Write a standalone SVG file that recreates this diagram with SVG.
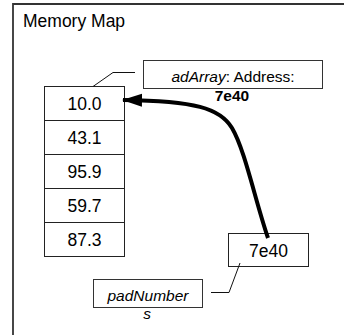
<svg xmlns="http://www.w3.org/2000/svg" width="344" height="335" viewBox="0 0 344 335">
<style>
  text { font-family: "Liberation Sans", Arial, sans-serif; fill: #000; }
  .cell { fill: #fff; stroke: #222; stroke-width: 1; }
  .lbl { fill: #fff; stroke: #333; stroke-width: 1; }
  .v { font-size: 17.5px; text-anchor: middle; }
  .l { font-size: 15.5px; text-anchor: middle; }
  .thin { fill: none; stroke: #111; stroke-width: 1; }
  .thick { fill: none; stroke: #000; stroke-width: 4; }
</style>
<defs>
  <marker id="ah" markerUnits="userSpaceOnUse" markerWidth="20" markerHeight="14" refX="19" refY="7" orient="auto">
    <path d="M0,0.5 L20,7 L0,13.5 Z" fill="#000"/>
  </marker>
</defs>
<rect width="344" height="335" fill="#fff"/>
<g id="frame">
  <path d="M13,340 L13,4 L350,4" fill="none" stroke="#333" stroke-width="1.8"/>
  <text x="23" y="27" font-size="17.5">Memory Map</text>
</g>
<g id="array">
  <rect class="cell" x="44.5" y="86.5" width="80" height="34"/>
  <rect class="cell" x="44.5" y="120.5" width="80" height="34"/>
  <rect class="cell" x="44.5" y="154.5" width="80" height="34"/>
  <rect class="cell" x="44.5" y="188.5" width="80" height="34"/>
  <rect class="cell" x="44.5" y="222.5" width="80" height="34"/>
  <text class="v" x="84.5" y="110">10.0</text>
  <text class="v" x="84.5" y="144">43.1</text>
  <text class="v" x="84.5" y="178">95.9</text>
  <text class="v" x="84.5" y="212">59.7</text>
  <text class="v" x="84.5" y="246">87.3</text>
</g>
<g id="label-adArray">
  <rect class="lbl" x="143.5" y="60.5" width="179" height="28"/>
  <text class="l" x="233" y="82"><tspan font-style="italic">adArray</tspan>: Address:</text>
  <text class="l" x="232" y="101" font-weight="bold" font-size="14px">7e40</text>
</g>
<g id="pointer">
  <rect class="cell" x="228.5" y="233.5" width="80" height="33"/>
  <text class="v" x="268.5" y="257">7e40</text>
</g>
<g id="label-padNumbers">
  <rect class="lbl" x="93.5" y="279.5" width="109" height="28"/>
  <text class="l" x="148" y="301" font-style="italic">padNumber</text>
  <text class="l" x="147" y="319" font-style="italic">s</text>
</g>
<g id="connectors">
  <path class="thin" d="M135,72.5 L113,72.5 L93,86.5"/>
  <path class="thin" d="M240,263 L229,292.5 L211,292.5"/>
  <path class="thick" d="M268,238 C255,200 245,150 232,128 C220,108 195,101 123,100" marker-end="url(#ah)"/>
</g>
</svg>
